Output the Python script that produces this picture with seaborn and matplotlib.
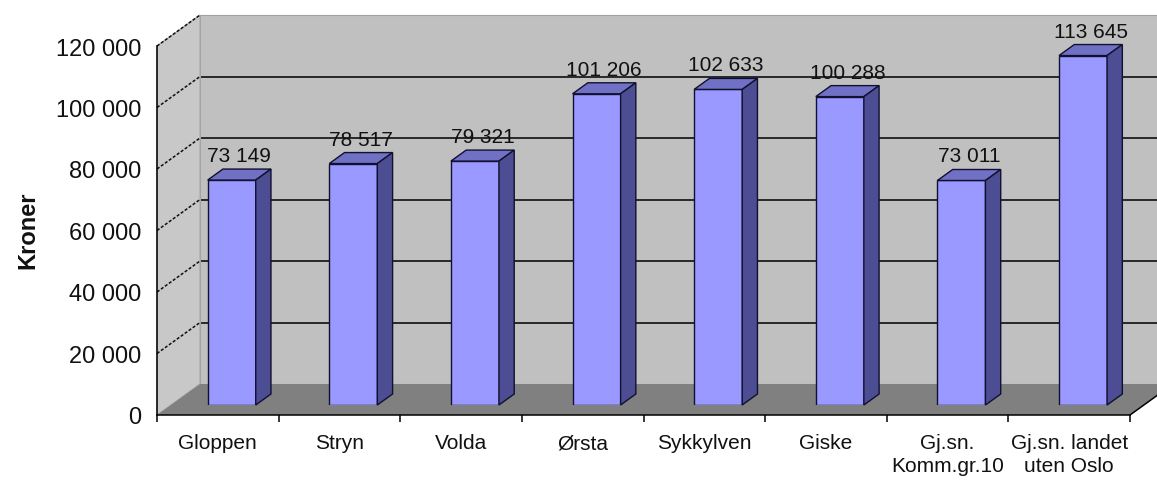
import matplotlib
matplotlib.use("Agg")
import matplotlib.pyplot as plt
import matplotlib.transforms as mtransforms
from matplotlib.patches import Polygon
from matplotlib.lines import Line2D
from matplotlib.ticker import FuncFormatter, FixedLocator
import seaborn as sns

# --- data -------------------------------------------------------------
categories = ["Gloppen", "Stryn", "Volda", "Ørsta", "Sykkylven", "Giske",
              "Gj.sn.\nKomm.gr.10", "Gj.sn. landet\nuten Oslo"]
values = [73149, 78517, 79321, 101206, 102633, 100288, 73011, 113645]
y_ticks = [0, 20000, 40000, 60000, 80000, 100000, 120000]
y_label = "Kroner"

# --- styling ----------------------------------------------------------
sns.set_theme(style="white")
plt.rcParams['font.family'] = ['Liberation Sans', 'DejaVu Sans']

W, H, DPI = 1157, 481, 100
fig = plt.figure(figsize=(W / DPI, H / DPI), dpi=DPI)
fig.patch.set_facecolor("white")

# front plane of the 3-D box, in pixels (y measured from the top)
FL, FR, FB, FT = 157, 1130, 416, 47
DX, DY = 43.0, 31.0                      # depth of the box
NEAR, FAR = 10 / 31, 21 / 31             # depth span of the columns

WALL = "#c0c0c0"
SIDE_WALL = "#c8c8c8"
FLOOR = "#808080"
BAR_FRONT = "#9999ff"
BAR_TOP = "#7070c4"
BAR_SIDE = "#4d4d94"
EDGE = "#101030"


def rect(dx=0.0, dy=0.0):
    return [(FL + dx) / W, (H - FB + dy) / H, (FR - FL) / W, (FB - FT) / H]


xlim = (-0.5, len(categories) - 0.5)
ylim = (y_ticks[0], y_ticks[-1])

# back wall with its gridlines
ax_back = fig.add_axes(rect(DX, DY), zorder=0)
ax_back.set_facecolor(WALL)
ax_back.set_xlim(*xlim)
ax_back.set_ylim(*ylim)
ax_back.set_xticks([])
ax_back.yaxis.set_major_locator(FixedLocator(y_ticks[1:-1]))
ax_back.tick_params(axis="y", length=0, labelleft=False)
ax_back.grid(axis="y", color="black", linewidth=1.1)
for s in ax_back.spines.values():
    s.set_color("#a0a0a0")
    s.set_linewidth(0.8)

# front plane: axes, ticks and labels
ax = fig.add_axes(rect(), zorder=1)
ax.set_facecolor("none")
ax.set_xlim(*xlim)
ax.set_ylim(*ylim)
ax.spines["top"].set_visible(False)
ax.spines["right"].set_visible(False)
for s in ("left", "bottom"):
    ax.spines[s].set_color("black")
    ax.spines[s].set_linewidth(1.1)
ax.yaxis.set_major_locator(FixedLocator(y_ticks))
ax.yaxis.set_major_formatter(FuncFormatter(lambda v, p: f"{int(v):,}".replace(",", " ")))
ax.tick_params(axis="y", direction="out", length=5, width=1.1, color="black",
               labelsize=17, pad=6, labelcolor="#111111")
ax.set_xticks(range(len(categories)))
ax.set_xticklabels(categories, fontsize=15, color="#111111", linespacing=1.25)
ax.set_xticks([i - 0.5 for i in range(len(categories) + 1)], minor=True)
ax.tick_params(axis="x", which="major", length=0, pad=13)
ax.tick_params(axis="x", which="minor", direction="out", length=5, width=1.1,
               color="black", bottom=True)
ax.grid(False)
fig.text(28 / W, 1 - 230 / H, y_label, rotation=90, fontsize=17,
         fontweight="bold", ha="center", va="center", color="#111111")

ident = mtransforms.IdentityTransform()


def px(axis, x, y, dx=0.0, dy=0.0):
    X, Y = axis.transData.transform((x, y))
    return (X + dx, Y + dy)


# side wall and floor of the box
x0, x1 = xlim
side = [px(ax, x0, ylim[0]), px(ax, x0, ylim[1]),
        px(ax, x0, ylim[1], DX, DY), px(ax, x0, ylim[0], DX, DY)]
ax.add_patch(Polygon(side, closed=True, facecolor=SIDE_WALL, edgecolor="#a8a8a8",
                     linewidth=0.8, transform=ident, clip_on=False, zorder=0))
floor = [px(ax, x0, 0), px(ax, x1, 0), px(ax, x1, 0, DX, DY), px(ax, x0, 0, DX, DY)]
ax.add_patch(Polygon(floor, closed=True, facecolor=FLOOR, edgecolor="none",
                     transform=ident, clip_on=False, zorder=0))
ax.add_line(Line2D([floor[1][0], floor[2][0]], [floor[1][1], floor[2][1]],
                   color="black", linewidth=1.1, transform=ident, clip_on=False))
for v in y_ticks[1:]:
    a, b = px(ax, x0, v), px(ax, x0, v, DX, DY)
    ax.add_line(Line2D([a[0], b[0]], [a[1], b[1]], color="#101010", linewidth=1.1,
                       linestyle=(0, (2, 1.2)), transform=ident, clip_on=False))

# columns: front faces from seaborn, then top and side faces
ax_bar = fig.add_axes(rect(DX * NEAR, DY * NEAR), zorder=2)
ax_bar.set_facecolor("none")
sns.barplot(x=categories, y=values, ax=ax_bar, color=BAR_FRONT, saturation=1,
            width=0.395, edgecolor=EDGE, linewidth=1.0)
ax_bar.set_xlim(*xlim)
ax_bar.set_ylim(*ylim)
ax_bar.axis("off")

ddx, ddy = DX * (FAR - NEAR), DY * (FAR - NEAR)
label_tf = mtransforms.offset_copy(ax_bar.transData, fig=fig, x=ddx / 2,
                                   y=ddy + 8, units="dots")
for patch, val in zip(ax_bar.patches, values):
    bx, bw, bh = patch.get_x(), patch.get_width(), patch.get_height()
    tl, tr = px(ax_bar, bx, bh), px(ax_bar, bx + bw, bh)
    br = px(ax_bar, bx + bw, 0)
    top = [tl, tr, (tr[0] + ddx, tr[1] + ddy), (tl[0] + ddx, tl[1] + ddy)]
    sidef = [tr, br, (br[0] + ddx, br[1] + ddy), (tr[0] + ddx, tr[1] + ddy)]
    ax_bar.add_patch(Polygon(top, closed=True, facecolor=BAR_TOP, edgecolor=EDGE,
                             linewidth=1.0, transform=ident, clip_on=False))
    ax_bar.add_patch(Polygon(sidef, closed=True, facecolor=BAR_SIDE, edgecolor=EDGE,
                             linewidth=1.0, transform=ident, clip_on=False))
    ax_bar.text(bx + bw / 2, bh, f"{val:,}".replace(",", " "), transform=label_tf,
                ha="center", va="baseline", fontsize=15, color="#111111")

fig.savefig("out.png", dpi=DPI, facecolor="white")
